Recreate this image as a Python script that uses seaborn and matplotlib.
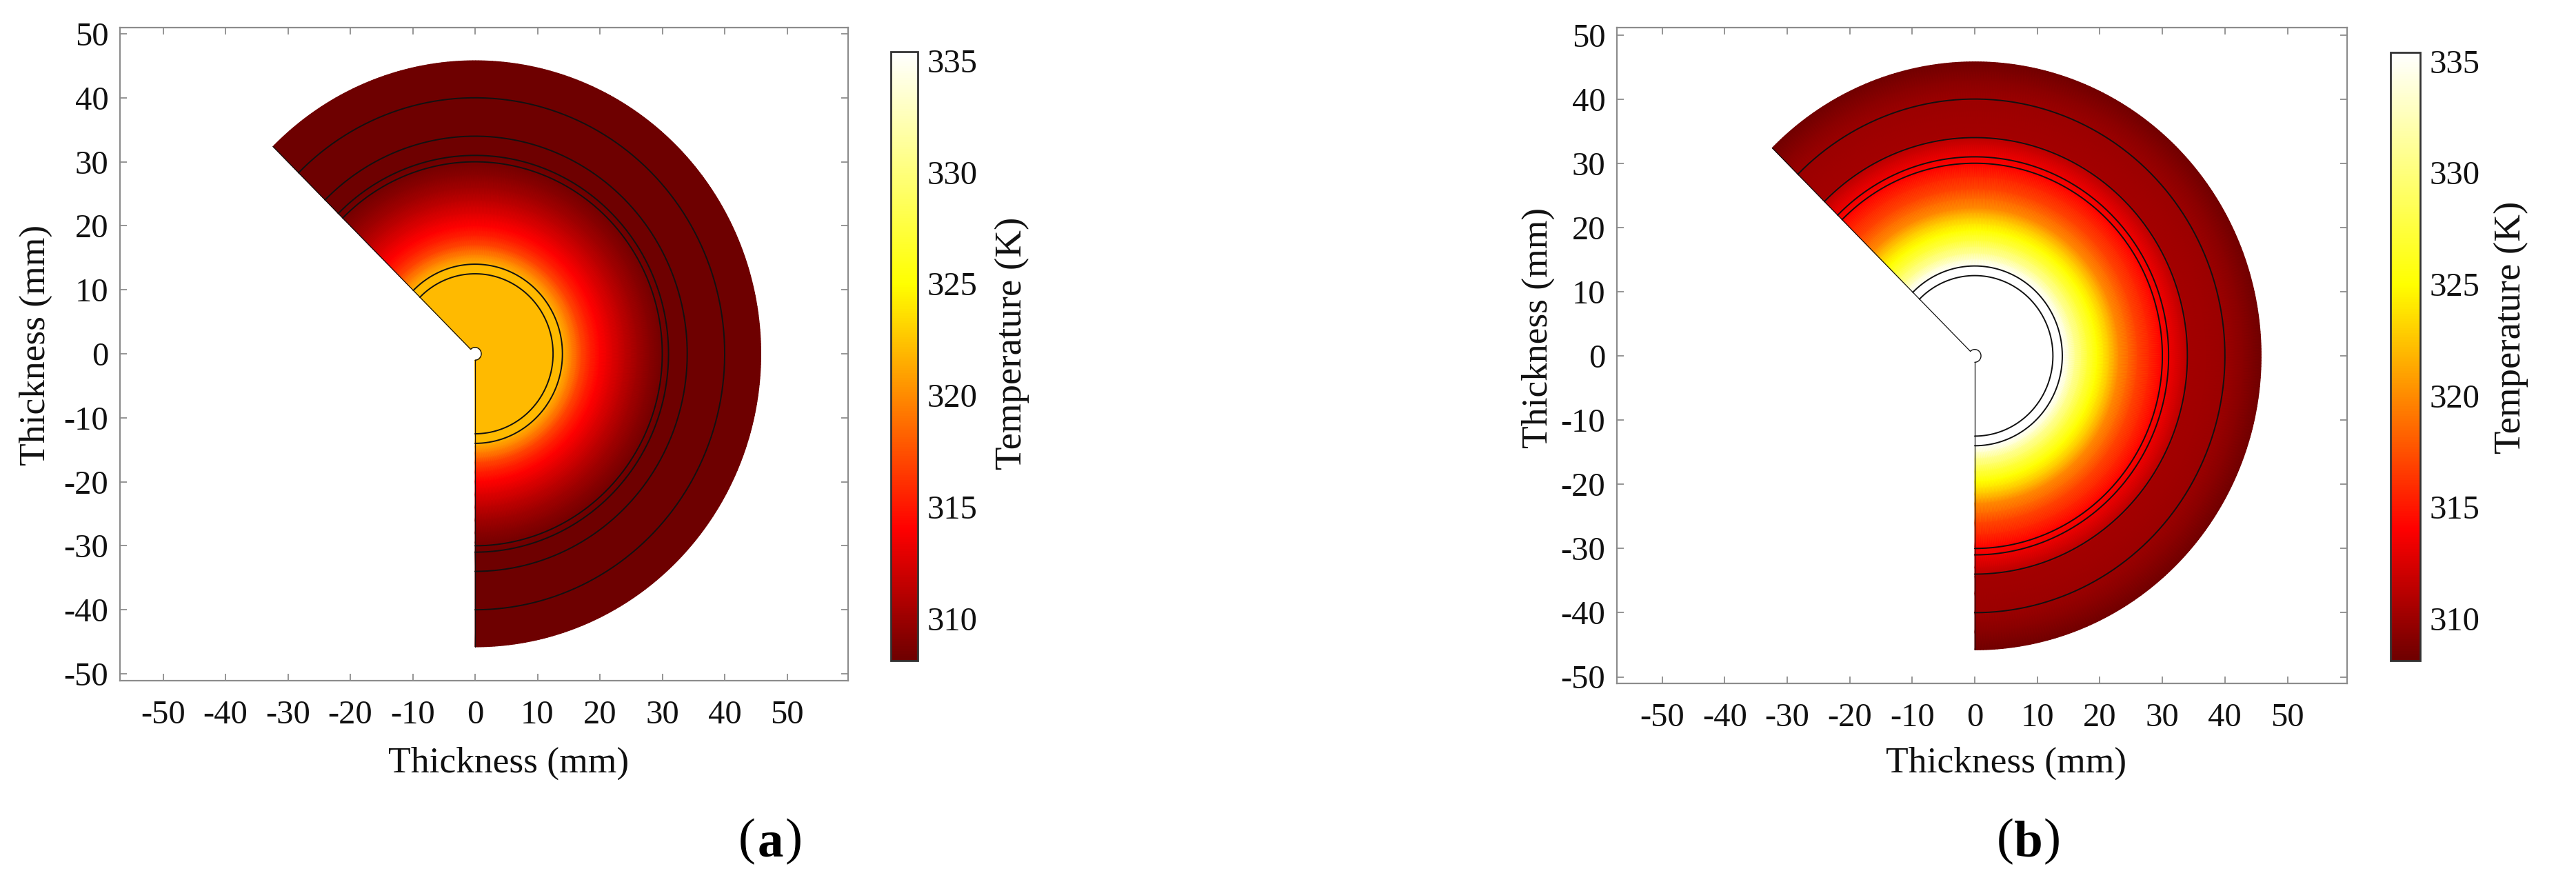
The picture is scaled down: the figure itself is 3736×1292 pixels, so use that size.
# Temperature maps of the two cross sections (a) and (b)
import numpy as np
import pandas as pd
import matplotlib
matplotlib.use('Agg')
import matplotlib.pyplot as plt
import seaborn as sns

# Values
radius_a = [1.0, 12.5, 13.8, 14.5, 15.5, 17.0, 18.5, 20.0, 22.0, 24.0, 26.0, 28.0, 29.5, 31.0, 45.8]
temp_a = [322.0, 322.0, 322.0, 321.0, 319.5, 317.0, 315.3, 314.0, 312.6, 311.3, 310.2, 309.2, 308.6, 308.2, 308.1]
radius_b = [1.0, 13.5, 14.0, 16.0, 18.0, 19.6, 21.5, 23.0, 26.0, 29.7, 31.0, 33.0, 34.0, 34.3, 37.0, 40.0, 43.0, 45.8]
temp_b = [338.0, 338.0, 336.0, 331.0, 327.3, 325.0, 322.5, 320.0, 317.0, 314.2, 313.4, 312.0, 311.2, 310.3, 310.2, 310.0, 309.2, 308.3]
ring_radii = [12.5, 14.0, 30.0, 31.0, 34.0, 40.0]
axis_ticks = [-50, -40, -30, -20, -10, 0, 10, 20, 30, 40, 50]
cbar_ticks = [310, 315, 320, 325, 330, 335]
temp_min, temp_max = 308.1, 335.4

W, H = 3736, 1292

sns.set_theme(style='ticks')
plt.rcParams['font.family'] = ['Liberation Serif', 'DejaVu Serif']
plt.rcParams['axes.unicode_minus'] = False

# red sits at 314 K, yellow at 325 K on the scale
heat = matplotlib.colors.LinearSegmentedColormap.from_list('heat_scale', [
    (0.0, '#6e0000'),
    ((314.0 - temp_min) / (temp_max - temp_min), '#ff0000'),
    ((325.0 - temp_min) / (temp_max - temp_min), '#ffff00'),
    (1.0, '#ffffff')])

fig = plt.figure(figsize=(W / 100, H / 100), dpi=100, facecolor='white')


def box(l, r, t, b):
    return [l / W, 1 - b / H, (r - l) / W, (b - t) / H]


def draw_arc(ax, r, lw):
    ang = np.radians(np.linspace(-90, 135, 400))
    arc = pd.DataFrame({'x': r * np.cos(ang), 'y': r * np.sin(ang)})
    sns.lineplot(data=arc, x='x', y='y', sort=False, estimator=None, color='#111111', lw=lw, ax=ax)


def draw_panel(radius, temp, frame, origin, scale, cbar_box, xlab, ylab, cblab):
    l, r, t, b = frame
    ax = fig.add_axes(box(l, r, t, b))
    ang = np.radians(np.linspace(-90, 135, 400))
    rr, aa = np.meshgrid(radius, ang)
    tt = np.tile(temp, (len(ang), 1))
    mesh = ax.pcolormesh(rr * np.cos(aa), rr * np.sin(aa), tt, cmap=heat, vmin=temp_min, vmax=temp_max,
                         shading='gouraud', rasterized=True)
    for rad in ring_radii:
        draw_arc(ax, rad, 1.4)
    draw_arc(ax, 1.0, 1.0)
    # straight cut edges of the section
    edge = 45.8
    ax.plot([0, 0], [-1.0, -edge], color='#111111', lw=0.9)
    ax.plot([-0.7, -edge * np.sqrt(0.5)], [0.7, edge * np.sqrt(0.5)], color='#111111', lw=0.9)

    ax.set_xlim((l - origin[0]) / scale[0], (r - origin[0]) / scale[0])
    ax.set_ylim((origin[1] - b) / scale[1], (origin[1] - t) / scale[1])
    ax.set_xticks(axis_ticks)
    ax.set_yticks(axis_ticks)
    ax.tick_params(direction='in', top=True, right=True, length=7, width=1.3, color='#8c8c8c',
                   labelsize=35, labelcolor='#111111')
    ax.tick_params(axis='x', pad=20)
    ax.tick_params(axis='y', pad=12)
    for s in ax.spines.values():
        s.set_color('#8c8c8c')
        s.set_linewidth(1.6)
    ax.set_xlabel('Thickness (mm)', fontsize=38.5, color='#111111')
    ax.set_ylabel('Thickness (mm)', fontsize=38.5, color='#111111')
    ax.xaxis.set_label_coords(xlab[0] / W, 1 - xlab[1] / H, transform=fig.transFigure)
    ax.yaxis.set_label_coords(ylab[0] / W, 1 - ylab[1] / H, transform=fig.transFigure)
    ax.xaxis.label.set_va('center')
    ax.yaxis.label.set_va('center')

    cax = fig.add_axes(box(*cbar_box))
    cb = fig.colorbar(mesh, cax=cax, ticks=cbar_ticks)
    cax.tick_params(direction='in', left=True, right=True, length=5, width=1.1, color='#777777',
                    labelsize=35, labelcolor='#111111', pad=10)
    cb.outline.set_edgecolor('#333333')
    cb.outline.set_linewidth(2.0)
    fig.text(cblab[0] / W, 1 - cblab[1] / H, 'Temperature (K)', rotation=90, fontsize=39.5, color='#111111',
             ha='center', va='center')
    return ax


def tag_text(x, y, letter):
    # round brackets are regular, the letter bold
    fig.text(x / W, 1 - y / H, letter, fontsize=54, fontweight='bold', color='black', ha='center', va='center')
    fig.text((x - 34) / W, 1 - (y - 4) / H, '(', fontsize=54, color='black', ha='center', va='center')
    fig.text((x + 34) / W, 1 - (y - 4) / H, ')', fontsize=54, color='black', ha='center', va='center')


draw_panel(radius_a, temp_a, (174, 1230, 40, 987), (689, 513), (9.05, 9.28), (1292, 1331, 75, 958),
           (738, 1107), (52, 500), (1468, 498))
draw_panel(radius_b, temp_b, (2345, 3404, 40, 991), (2864, 516), (9.07, 9.31), (3467, 3510, 76, 958),
           (2910, 1107), (2231, 475), (3642, 475))
tag_text(1117, 1224, 'a')
tag_text(2942, 1224, 'b')

plt.savefig('out.png', dpi=100)
